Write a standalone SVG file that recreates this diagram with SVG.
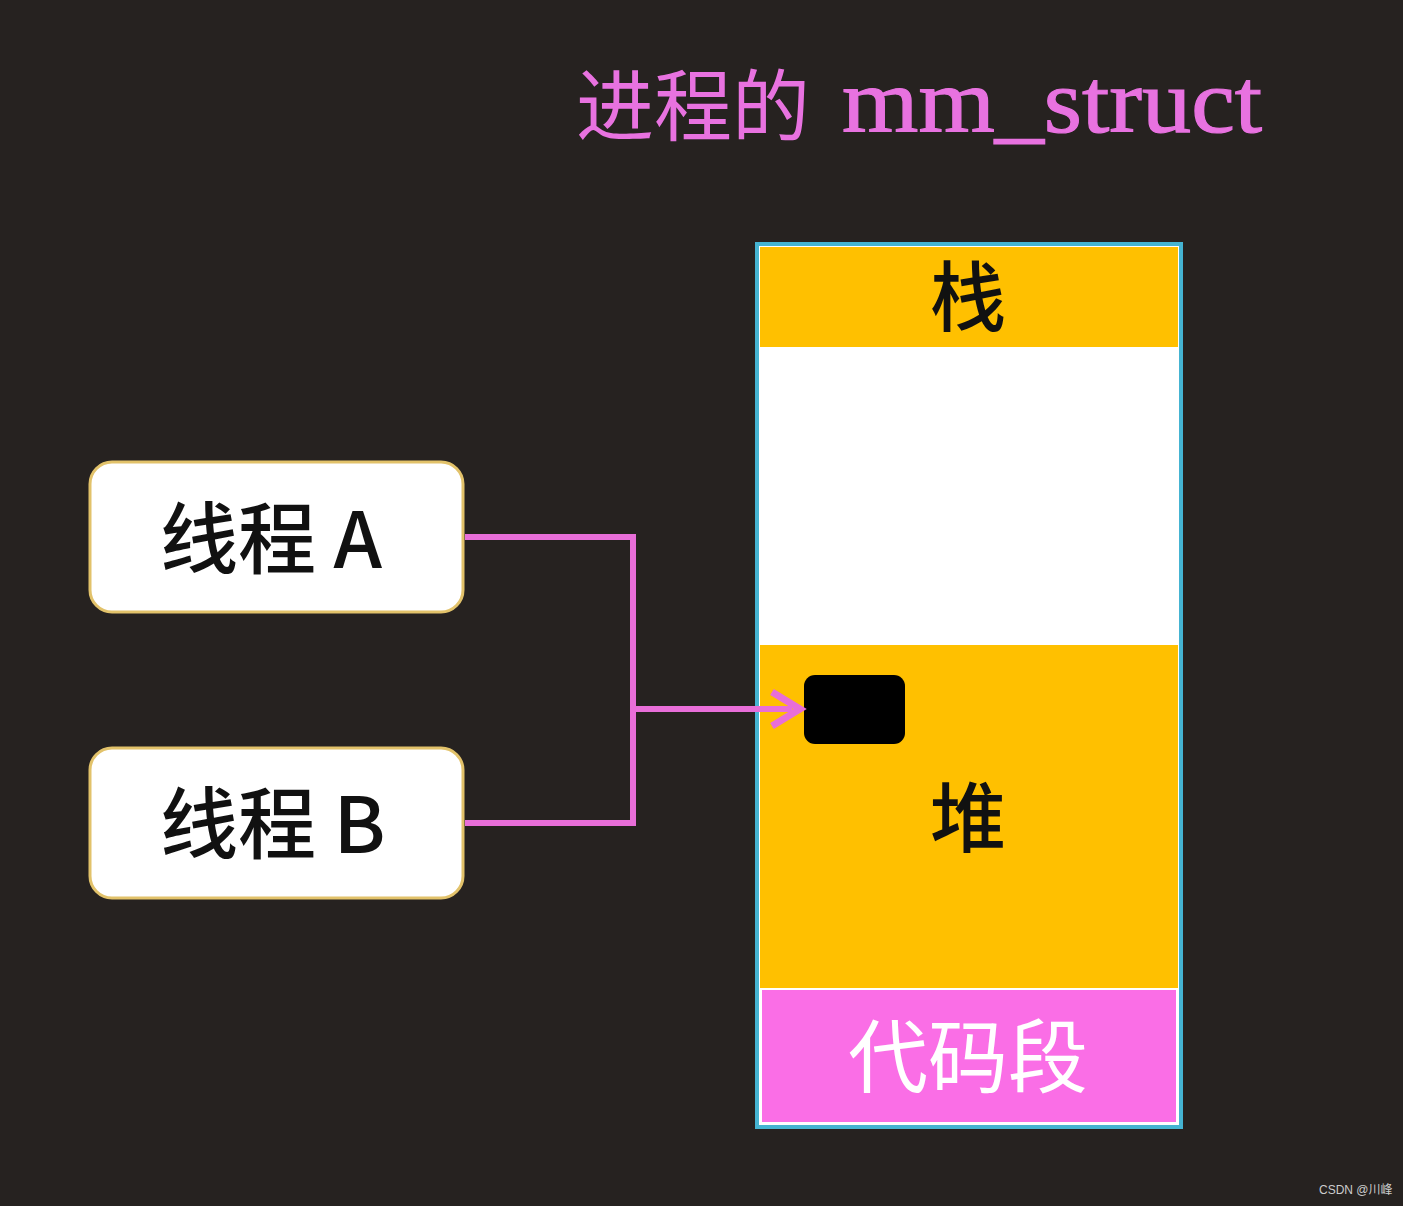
<svg xmlns="http://www.w3.org/2000/svg" width="1403" height="1206" viewBox="0 0 1403 1206">
<style>
.thread{fill:#ffffff;stroke:#e2c26a;stroke-width:3}
.tl{font-family:"Noto Sans CJK SC","Liberation Sans",sans-serif;font-size:78px;font-weight:500;fill:#111}
.seg{font-family:"Noto Sans CJK SC",sans-serif;font-size:76px;font-weight:500;fill:#111;text-anchor:middle}
.conn{fill:none;stroke:#e86ed8;stroke-width:6}
</style>
<rect width="1403" height="1206" fill="#262220"/>
<g id="title">
<text x="576" y="135" font-family="Noto Sans CJK SC,serif" font-size="78" fill="#e872e0">进程的</text>
<text x="842" y="132" font-family="Liberation Serif,serif" font-size="90" fill="#e872e0" stroke="#e872e0" stroke-width="1.2" textLength="420" lengthAdjust="spacingAndGlyphs">mm_struct</text>
</g>
<g id="mm_struct">
<rect x="757" y="244" width="424" height="883" fill="#ffffff" stroke="#45b4d2" stroke-width="4"/>
<g id="stack"><rect x="760" y="247" width="418" height="100" fill="#ffc000"/><text class="seg" x="968" y="325">栈</text></g>
<g id="free"><rect x="760" y="349" width="418" height="294" fill="#ffffff"/></g>
<g id="heap"><rect x="760" y="645" width="418" height="343" fill="#ffc000"/><text class="seg" x="968" y="846">堆</text>
<rect id="block" x="804" y="675" width="101" height="69" rx="11" fill="#000"/></g>
<g id="code"><rect x="762" y="990" width="414" height="132" fill="#fa6ee6"/><text class="seg" x="968" y="1086" style="fill:#fff;font-size:80px;font-weight:400">代码段</text></g>
</g>
<g id="threadA"><rect class="thread" x="90" y="462" width="373" height="150" rx="22"/><text class="tl" x="160" y="568">线程 A</text></g>
<g id="threadB"><rect class="thread" x="90" y="748" width="373" height="150" rx="22"/><text class="tl" x="160" y="853">线程 B</text></g>
<g id="connectors">
<path class="conn" d="M465 537 H633 V823 H465"/>
<path class="conn" d="M633 709 H792"/>
<path d="M772 692 L800 709 L772 726" fill="none" stroke="#e86ed8" stroke-width="7" stroke-linejoin="miter"/>
</g>
<text x="1319" y="1194" font-family="Liberation Sans,Noto Sans CJK SC,sans-serif" font-size="12" fill="#cccccc">CSDN @川峰</text>
</svg>
